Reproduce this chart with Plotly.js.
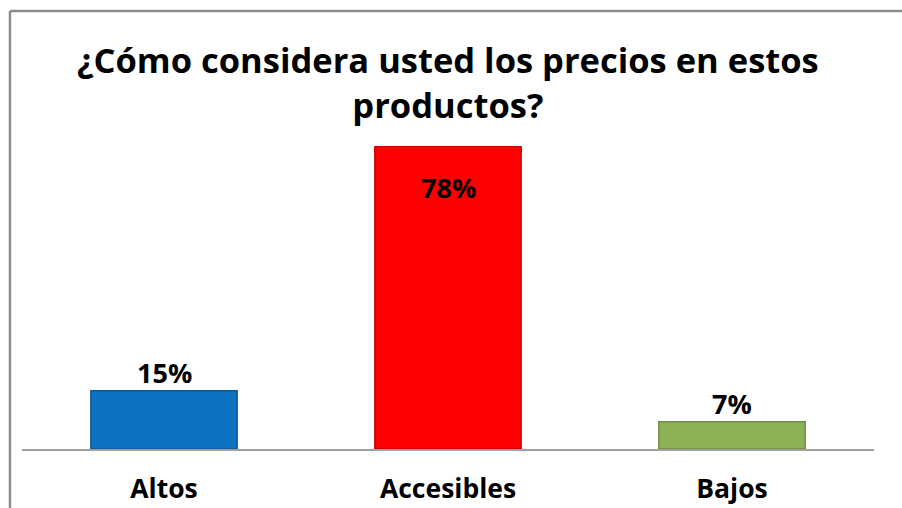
<!DOCTYPE html>
<html>
<head>
<meta charset="utf-8">
<script src="https://cdn.plot.ly/plotly-3.0.1.min.js"></script>
<style>html,body{margin:0;padding:0;background:#fff;}#chart{width:902px;height:508px;}</style>
</head>
<body>
<div id="chart"></div>
<script>
var categories = ["Altos", "Accesibles", "Bajos"];
var values = [15, 78, 7];
var barColors = ["#0B72C4", "#FF0000", "#8DB255"];
var edgeColors = ["#0A5A9A", "#C00000", "#6E8C3F"];
var titleText = "¿Cómo considera usted los precios en estos<br>productos?";

var FONT = "'Open Sans', Lato, sans-serif";

var trace = {
  type: "bar",
  x: categories,
  y: values,
  marker: {color: barColors, line: {color: edgeColors, width: 1.5}},
  width: 0.515,
  hoverinfo: "none"
};

var annotations = values.map(function(v, i) {
  var inside = v > 50;
  return {
    x: categories[i], y: v, xref: "x", yref: "y",
    text: v + "%", showarrow: false,
    yanchor: inside ? "top" : "bottom",
    yshift: inside ? -21 : -2,
    font: {family: FONT, size: 27, color: "#000", weight: "bold"}
  };
});
annotations.push({
  text: titleText, xref: "paper", yref: "paper", x: 0.5, y: 1.2096,
  xanchor: "center", yanchor: "middle", showarrow: false,
  font: {family: FONT, size: 34.5, color: "#000", weight: "bold"}
});

var borderColor = "#8C8C8C";
var layout = {
  width: 902, height: 508,
  margin: {l: 22, r: 28, t: 146, b: 59},
  paper_bgcolor: "#fff", plot_bgcolor: "#fff",
  showlegend: false,
  xaxis: {
    type: "category",
    showline: true, linecolor: "#A0A0A0", linewidth: 1.5,
    ticks: "outside", ticklen: 16, tickcolor: "rgba(0,0,0,0)",
    tickfont: {family: FONT, size: 26.5, color: "#000", weight: "bold"},
    showgrid: false, zeroline: false, fixedrange: true
  },
  yaxis: {
    range: [0, 78], visible: false, showgrid: false, zeroline: false, fixedrange: true
  },
  annotations: annotations,
  shapes: [
    {type: "line", xref: "paper", yref: "paper", x0: -0.0141, x1: -0.0141, y0: 1.4455, y1: -0.2, line: {color: borderColor, width: 2.5}},
    {type: "line", xref: "paper", yref: "paper", x0: -0.0141, x1: 1.04, y0: 1.4455, y1: 1.4455, line: {color: borderColor, width: 2.5}}
  ]
};

Plotly.newPlot("chart", [trace], layout, {displayModeBar: false, staticPlot: true});
</script>
</body>
</html>
